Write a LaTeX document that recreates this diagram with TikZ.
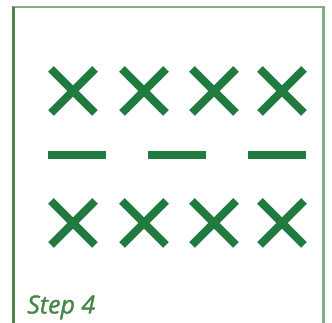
\documentclass[tikz,border=0pt]{standalone}
\usepackage{fontspec}
\setmainfont{Open Sans}
\newfontfamily\stepfont[FakeBold=1.3]{Open Sans}
\definecolor{xgreen}{HTML}{217A3F}
\definecolor{framegreen}{HTML}{80B080}
\definecolor{frameleft}{HTML}{4F8450}
\definecolor{textgreen}{HTML}{448744}
\tikzset{
  xmark/.style={draw=xgreen, line width=8pt},
  dashbar/.style={draw=xgreen, line width=8pt},
}
\begin{document}
\begin{tikzpicture}[x=1pt,y=1pt]
\useasboundingbox (0,0) rectangle (332,323);
% frame
\draw[framegreen, line width=2.2pt] (13.5,0) -- (13.5,316.3) -- (323.5,316.3) -- (323.5,0);
\draw[frameleft, line width=2.2pt] (13.5,0) -- (13.5,315.5);
% crosses
\foreach \cx in {73,144,214,282}{
  \foreach \cy in {232,100}{
    \draw[xmark] (\cx-22,\cy+22) -- (\cx+22,\cy-22);
    \draw[xmark] (\cx-22,\cy-22) -- (\cx+22,\cy+22);
  }
}
% dashes
\foreach \dx in {48,148,248}{
  \draw[dashbar] (\dx,167.5) -- (\dx+58,167.5);
}
\node[anchor=base west, inner sep=0pt, text=textgreen, font=\stepfont\fontsize{25}{27}\selectfont\itshape] (label) at (27,9.5) {Step 4};
\end{tikzpicture}
\end{document}
